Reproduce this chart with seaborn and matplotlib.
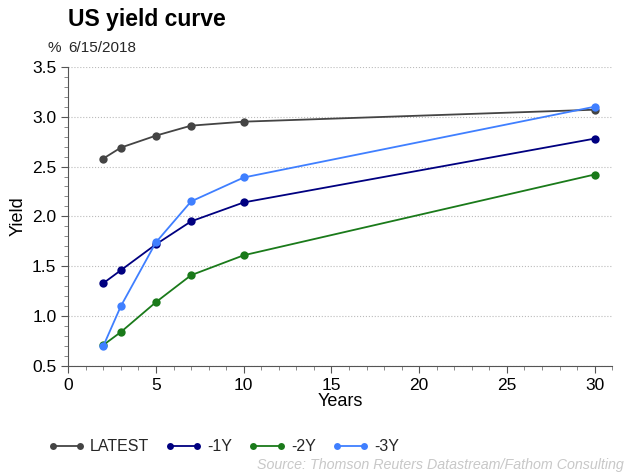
import pandas as pd
import matplotlib.pyplot as plt
import seaborn as sns
from matplotlib.ticker import MultipleLocator

years = [2, 3, 5, 7, 10, 30]
series_names = ['LATEST', '-1Y', '-2Y', '-3Y']
latest = [2.58, 2.69, 2.81, 2.91, 2.95, 3.07]
minus_1y = [1.33, 1.46, 1.72, 1.95, 2.14, 2.78]
minus_2y = [0.71, 0.84, 1.14, 1.41, 1.61, 2.42]
minus_3y = [0.70, 1.10, 1.74, 2.15, 2.39, 3.10]
colors = ['#444444', '#000080', '#1a7a1a', '#3f7fff']

sns.set_style('white')
plt.rcParams['font.family'] = ['Liberation Sans', 'DejaVu Sans']

frames = []
for name, vals in zip(series_names, [latest, minus_1y, minus_2y, minus_3y]):
    frames.append(pd.DataFrame({'Years': years, 'Yield': vals, 'series': name}))
df = pd.concat(frames, ignore_index=True)

fig = plt.figure(figsize=(6.26, 4.74), dpi=100)
ax = fig.add_axes([0.109, 0.228, 0.869, 0.631])
sns.lineplot(data=df, x='Years', y='Yield', hue='series', hue_order=series_names,
             palette=colors, marker='o', markersize=6, markeredgewidth=0,
             linewidth=1.3, ax=ax, legend=False)

ax.set_xlim(0, 31)
ax.set_ylim(0.5, 3.5)
ax.xaxis.set_major_locator(MultipleLocator(5))
ax.xaxis.set_minor_locator(MultipleLocator(1))
ax.yaxis.set_major_locator(MultipleLocator(0.5))
ax.yaxis.set_minor_locator(MultipleLocator(0.1))
ax.yaxis.set_major_formatter(plt.FuncFormatter(lambda v, p: f'{v:.1f}'))
ax.tick_params(axis='both', which='major', direction='out', length=5, width=0.8,
               color='#555555', labelsize=12.5, labelcolor='black', bottom=True, left=True)
ax.tick_params(axis='both', which='minor', direction='out', length=3, width=0.6,
               color='#777777', bottom=True, left=True)
ax.grid(axis='y', which='major', linestyle=':', color='#bbbbbb', linewidth=0.8)
ax.grid(axis='x', visible=False)
for s in ['top', 'right']:
    ax.spines[s].set_visible(False)
for s in ['left', 'bottom']:
    ax.spines[s].set_color('#555555')
    ax.spines[s].set_linewidth(0.8)
ax.set_xlabel('Years', fontsize=13, labelpad=0, color='black')
ax.set_ylabel('Yield', fontsize=13, color='black')

fig.text(0.109, 0.935, 'US yield curve', fontsize=16.5, fontweight='bold', ha='left', va='bottom',
         color='black')
fig.text(0.098, 0.885, '%', fontsize=11, ha='right', va='bottom')
fig.text(0.109, 0.883, '6/15/2018', fontsize=11, ha='left', va='bottom')

handles = [plt.Line2D([], [], color=c, marker='o', markersize=5, markeredgewidth=0, linewidth=1.3)
           for c in colors]
fig.legend(handles, series_names, loc='center', bbox_to_anchor=(0.357, 0.057), ncol=4,
           frameon=False, numpoints=2, handlelength=2.3, handletextpad=0.35,
           columnspacing=1.0, fontsize=11.5)
fig.text(0.996, 0.005, 'Source: Thomson Reuters Datastream/Fathom Consulting', fontsize=10.3,
         style='italic', color='#c8c8c8', ha='right', va='bottom')

fig.savefig('out.png', dpi=100)
